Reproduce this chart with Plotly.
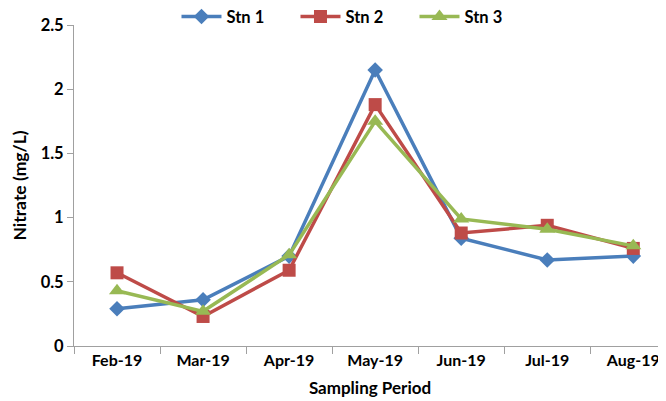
import plotly.graph_objects as go

months = ["Feb-19", "Mar-19", "Apr-19", "May-19", "Jun-19", "Jul-19", "Aug-19"]
stn1 = [0.29, 0.36, 0.70, 2.15, 0.84, 0.67, 0.70]
stn2 = [0.57, 0.23, 0.59, 1.88, 0.88, 0.94, 0.76]
stn3 = [0.43, 0.27, 0.71, 1.75, 0.99, 0.91, 0.78]
y_ticks = [0, 0.5, 1, 1.5, 2, 2.5]
y_tick_labels = ["0", "0.5", "1", "1.5", "2", "2.5"]

FONT = "Lato"

fig = go.Figure()
fig.add_trace(go.Scatter(x=months, y=stn1, name="Stn 1", mode="lines+markers",
                         line=dict(color="#4A7EBB", width=3.5),
                         marker=dict(symbol="diamond", size=12, color="#4A7EBB")))
fig.add_trace(go.Scatter(x=months, y=stn2, name="Stn 2", mode="lines+markers",
                         line=dict(color="#BE4B48", width=3.5),
                         marker=dict(symbol="square", size=13, color="#BE4B48")))
fig.add_trace(go.Scatter(x=months, y=stn3, name="Stn 3", mode="lines+markers",
                         line=dict(color="#98B954", width=3.5),
                         marker=dict(symbol="triangle-up", size=14, color="#98B954")))

fig.update_layout(
    width=666, height=401,
    margin=dict(l=66, r=8, t=17, b=63, autoexpand=False),
    paper_bgcolor="white", plot_bgcolor="white",
    font=dict(family=FONT, size=16, color="black", weight="bold"),
    showlegend=True,
    legend=dict(orientation="h", x=0.521, xanchor="center", xref="container",
                y=0.978, yanchor="middle", yref="container",
                font=dict(size=16.5, family=FONT, weight="bold"),
                itemwidth=40, entrywidth=64, entrywidthmode="pixels",
                traceorder="normal", bgcolor="rgba(0,0,0,0)"),
    xaxis=dict(type="category", range=[-0.5, 6.38], showline=True, linecolor="#A0A0A0",
               linewidth=1, ticks="outside", tickson="boundaries", ticklen=7,
               tickcolor="#A0A0A0", showgrid=False, zeroline=False,
               tickfont=dict(size=16, family=FONT, weight="bold"),
               title=dict(text="Sampling Period", standoff=13,
                          font=dict(size=17, family=FONT, weight="bold"))),
    yaxis=dict(range=[0, 2.5], tickvals=y_ticks, ticktext=y_tick_labels,
               showline=True, linecolor="#A0A0A0", linewidth=1, ticks="outside",
               ticklen=6, tickcolor="#A0A0A0", showgrid=False, zeroline=False,
               tickfont=dict(size=16.5, family=FONT, weight="bold"),
               title=dict(text="Nitrate (mg/L)", standoff=9,
                          font=dict(size=17.5, family=FONT, weight="bold"))),
)

fig.write_html("out.html")
